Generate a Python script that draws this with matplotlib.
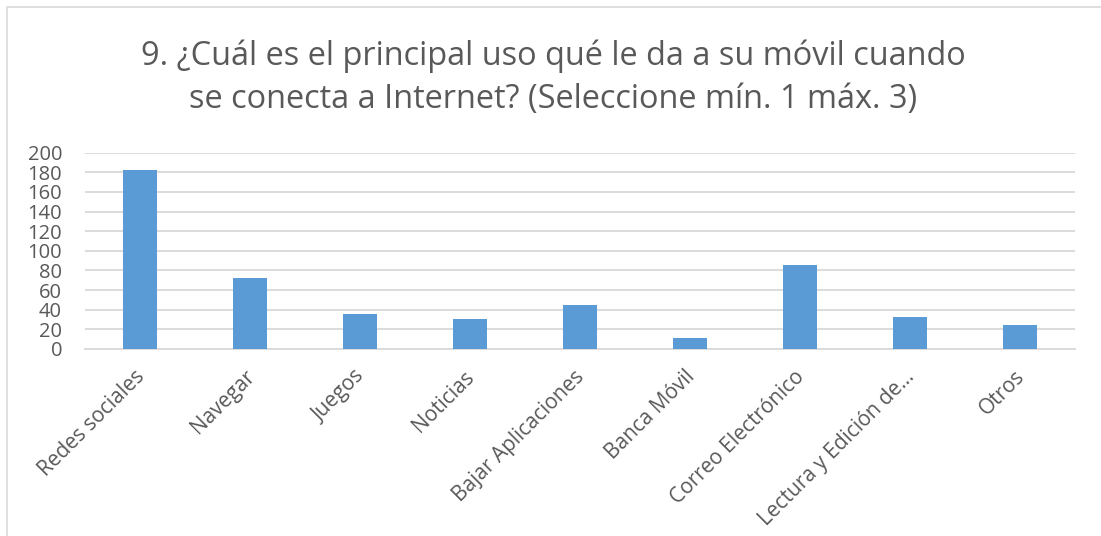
import matplotlib.pyplot as plt
import matplotlib.transforms as mtransforms
from matplotlib.patches import Rectangle

categories = ["Redes sociales", "Navegar", "Juegos", "Noticias", "Bajar Aplicaciones",
              "Banca Móvil", "Correo Electrónico", "Lectura y Edición de...", "Otros"]
values = [182, 72, 36, 31, 45, 11, 86, 33, 24]
yticks = [0, 20, 40, 60, 80, 100, 120, 140, 160, 180, 200]

title_lines = ["9. ¿Cuál es el principal uso qué le da a su móvil cuando",
               "se conecta a Internet? (Seleccione mín. 1 máx. 3)"]

plt.rcParams['font.family'] = ['Open Sans', 'DejaVu Sans']

W, H = 1101, 536
fig = plt.figure(figsize=(W / 100, H / 100), dpi=100, facecolor='white')
ax = fig.add_axes([85 / W, 1 - 349 / H, 990 / W, (349 - 152.7) / H])

x = list(range(len(categories)))
ax.bar(x, values, width=0.31, color='#5B9BD5', zorder=3)

ax.set_xlim(-0.5, len(categories) - 0.5)
ax.set_ylim(0, 200)
ax.set_yticks(yticks)
ax.set_yticklabels([str(v) for v in yticks], fontsize=14.5, color='#595959')
ax.set_xticks(x)
ax.set_xticklabels(categories, rotation=45, ha='right', rotation_mode='anchor',
                   fontsize=15, color='#595959')
ax.tick_params(axis='both', length=0)
ax.tick_params(axis='y', pad=16.5)
ax.tick_params(axis='x', pad=12.5)
# nudge rotated labels a little to the left
shift = mtransforms.ScaledTranslation(-6 / 100, 0, fig.dpi_scale_trans)
for lbl in ax.get_xticklabels():
    lbl.set_transform(lbl.get_transform() + shift)
ax.grid(axis='y', color='#D9D9D9', linewidth=1.3, zorder=0)
for s in ['top', 'right', 'left']:
    ax.spines[s].set_visible(False)
ax.spines['bottom'].set_color('#D9D9D9')
ax.spines['bottom'].set_linewidth(1.3)

# two title lines, baselines
for line, base in zip(title_lines, [65, 108]):
    fig.text(553 / W, 1 - base / H, line, ha='center', va='baseline',
             fontsize=23.4, color='#595959')

# chart border (right and bottom edges fall outside the crop)
fig.patches.append(Rectangle((7 / W, -20 / H), (1130 - 7) / W, (529 + 20) / H,
                             transform=fig.transFigure, fill=False,
                             edgecolor='#D9D9D9', linewidth=1.2))

plt.savefig('out.png', dpi=100, facecolor='white')
